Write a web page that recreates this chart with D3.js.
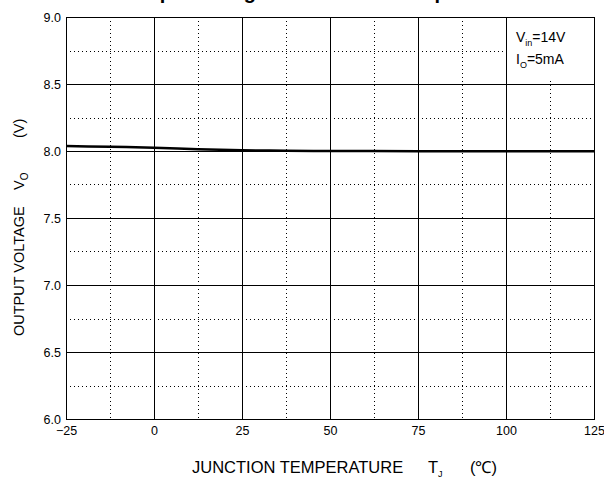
<!DOCTYPE html>
<html><head><meta charset="utf-8">
<script src="https://cdn.jsdelivr.net/npm/d3@7/dist/d3.min.js"></script>
<style>body{margin:0;background:#fff}svg{display:block;font-family:"Liberation Sans",Arial,sans-serif}</style>
</head><body><svg id="c" width="604" height="479"></svg>
<script>
const temps = [-25, -12.5, 0, 12.5, 25, 37.5, 50, 75, 100, 125];
const vout  = [8.037, 8.031, 8.025, 8.013, 8.005, 8.002, 8.0, 7.999, 7.999, 7.999];
const xTicks = [-25, 0, 25, 50, 75, 100, 125];
const xMinor = [-12.5, 12.5, 37.5, 62.5, 87.5, 112.5];
const yTicks = [6.0, 6.5, 7.0, 7.5, 8.0, 8.5, 9.0];
const yMinor = [6.25, 6.75, 7.25, 7.75, 8.25, 8.75];

const svg = d3.select("#c");
const L = 66, R = 594, T = 17, B = 419;
const x = d3.scaleLinear().domain([-25, 125]).range([L, R]);
const y = d3.scaleLinear().domain([6, 9]).range([B, T]);

// title (mostly clipped above the image, as in the reference)
svg.append("text").attr("x", 320).attr("y", -1).attr("text-anchor", "middle")
  .attr("font-weight", "bold").attr("font-size", 20).text("Output Voltage vs. Junction Temperature");

const g = svg.append("g");
g.selectAll(".vm").data(xMinor).join("line")
  .attr("x1", d => Math.round(x(d)) + 0.5).attr("x2", d => Math.round(x(d)) + 0.5)
  .attr("y1", T).attr("y2", B).attr("stroke", "#000").attr("stroke-width", 1).attr("stroke-dasharray", "1,3");
g.selectAll(".hm").data(yMinor).join("line")
  .attr("y1", d => Math.round(y(d)) + 0.5).attr("y2", d => Math.round(y(d)) + 0.5)
  .attr("x1", L).attr("x2", R).attr("stroke", "#000").attr("stroke-width", 1).attr("stroke-dasharray", "1,3");
g.selectAll(".vM").data(xTicks).join("line")
  .attr("x1", d => Math.round(x(d)) + 0.5).attr("x2", d => Math.round(x(d)) + 0.5)
  .attr("y1", T).attr("y2", B).attr("stroke", "#000").attr("stroke-width", 1);
g.selectAll(".hM").data(yTicks).join("line")
  .attr("y1", d => Math.round(y(d)) + 0.5).attr("y2", d => Math.round(y(d)) + 0.5)
  .attr("x1", L).attr("x2", R).attr("stroke", "#000").attr("stroke-width", 1);

// legend box
const lg = svg.append("g");
lg.append("rect").attr("x", x(100) + 3).attr("y", y(9) + 4).attr("width", x(125) - x(100) - 6).attr("height", y(8.5) - y(9) - 9).attr("fill", "#fff");
const t1 = lg.append("text").attr("x", x(100) + 10).attr("y", 42).attr("font-size", 14);
t1.append("tspan").text("V");
t1.append("tspan").attr("font-size", 9).attr("dy", 4).text("in");
t1.append("tspan").attr("dy", -4).text("=14V");
const t2 = lg.append("text").attr("x", x(100) + 10).attr("y", 64).attr("font-size", 14);
t2.append("tspan").text("I");
t2.append("tspan").attr("font-size", 9).attr("dy", 4).text("O");
t2.append("tspan").attr("dy", -4).text("=5mA");

// axes labels
const xa = d3.axisBottom(x).tickValues(xTicks).tickSize(0).tickPadding(7).tickFormat(d3.format("d"));
svg.append("g").attr("transform", `translate(0,${B})`).call(xa)
  .call(s => s.select(".domain").remove())
  .selectAll("text").attr("font-size", 12.5).attr("font-family", "Liberation Sans, Arial, sans-serif").attr("fill", "#000");
const ya = d3.axisLeft(y).tickValues(yTicks).tickSize(0).tickPadding(5).tickFormat(d3.format(".1f"));
svg.append("g").attr("transform", `translate(${L},0)`).call(ya)
  .call(s => s.select(".domain").remove())
  .selectAll("text").attr("font-size", 12.5).attr("font-family", "Liberation Sans, Arial, sans-serif").attr("fill", "#000");

// data line
const line = d3.line().x((d, i) => x(temps[i])).y(d => y(d)).curve(d3.curveMonotoneX);
svg.append("path").datum(vout).attr("d", line).attr("fill", "none").attr("stroke", "#000").attr("stroke-width", 2.5);

// frame
svg.append("rect").attr("x", L + 0.5).attr("y", T + 0.5).attr("width", R - L).attr("height", B - T)
  .attr("fill", "none").attr("stroke", "#000").attr("stroke-width", 1);

// x title
const xt = svg.append("text").attr("y", 473).attr("font-size", 16.5);
xt.append("tspan").attr("x", 192).text("JUNCTION TEMPERATURE");
xt.append("tspan").attr("x", 428).text("T");
xt.append("tspan").attr("font-size", 9).attr("dy", 4).text("J");
xt.append("tspan").attr("x", 470).attr("dy", -4).text("(℃)");

// y title
const yt = svg.append("text").attr("transform", "translate(24,336) rotate(-90)").attr("font-size", 14.5);
yt.append("tspan").attr("x", 0).text("OUTPUT VOLTAGE");
yt.append("tspan").attr("x", 146).text("V");
yt.append("tspan").attr("font-size", 10).attr("dy", 4).text("O");
yt.append("tspan").attr("x", 198).attr("dy", -4).text("(V)");
</script></body></html>
